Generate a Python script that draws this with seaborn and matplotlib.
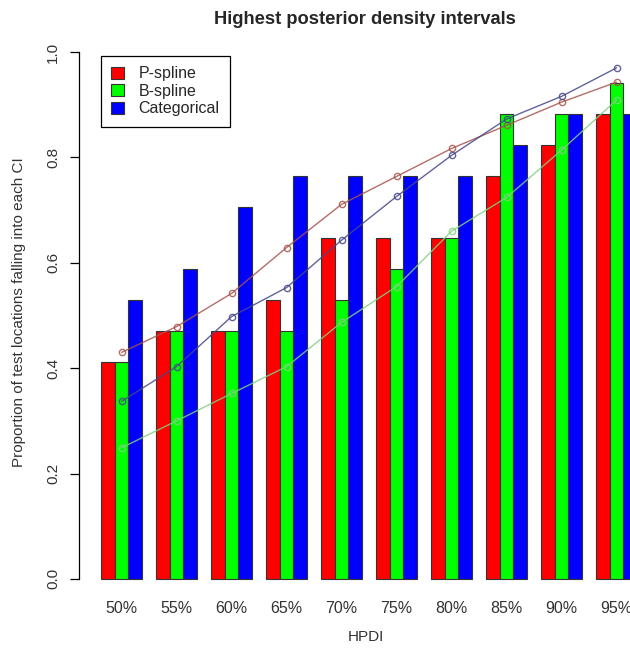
import numpy as np
import pandas as pd
import matplotlib
matplotlib.use("Agg")
import matplotlib.pyplot as plt
import seaborn as sns

sns.set_theme(style="white")
plt.rcParams["font.family"] = ["Liberation Sans", "DejaVu Sans"]

# data
levels = ["50%", "55%", "60%", "65%", "70%", "75%", "80%", "85%", "90%", "95%"]
methods = ["P-spline", "B-spline", "Categorical"]
p_spline = [0.412, 0.471, 0.471, 0.529, 0.647, 0.647, 0.647, 0.765, 0.824, 0.882]
b_spline = [0.412, 0.471, 0.471, 0.471, 0.529, 0.588, 0.647, 0.882, 0.882, 0.941]
categorical = [0.529, 0.588, 0.706, 0.765, 0.765, 0.765, 0.765, 0.824, 0.882, 0.882]

# expected coverage curves
p_line = [0.430, 0.479, 0.542, 0.629, 0.711, 0.764, 0.817, 0.861, 0.905, 0.943]
b_line = [0.249, 0.300, 0.352, 0.403, 0.487, 0.555, 0.660, 0.724, 0.814, 0.909]
c_line = [0.337, 0.403, 0.498, 0.553, 0.643, 0.726, 0.804, 0.873, 0.916, 0.970]

bar_colors = ["#FF0000", "#00FF00", "#0000FF"]
line_colors = ["#A8544C", "#80D080", "#474789"]

df = pd.DataFrame({
    "HPDI": levels * 3,
    "method": np.repeat(methods, len(levels)),
    "value": p_spline + b_spline + categorical,
})

W, H = 630, 651
fig = plt.figure(figsize=(W / 100, H / 100), dpi=100)
# axes placed so that y=0 sits at px 579 and y=1 at px 52
ax = fig.add_axes([79 / W, 1 - 600 / H, 1 - 79 / W, (600 - 31) / H])

sns.barplot(data=df, x="HPDI", y="value", hue="method", order=levels,
            hue_order=methods, palette=bar_colors, saturation=1,
            width=0.75, edgecolor="#333333", linewidth=0.8, ax=ax)

xpos = np.arange(len(levels))
for vals, col in zip([p_line, b_line, c_line], line_colors):
    sns.lineplot(x=xpos, y=vals, ax=ax, color=col, linewidth=1.0,
                 marker="o", markersize=4.5, markerfacecolor="none",
                 markeredgecolor=col, markeredgewidth=1.0, alpha=0.85,
                 legend=False)

ax.set_xlim(-0.775, 9.244)
ax.set_ylim(-0.04, 1.04)

for s in ["top", "right", "bottom"]:
    ax.spines[s].set_visible(False)
ax.spines["left"].set_bounds(0, 1)
ax.spines["left"].set_color("black")
ax.spines["left"].set_linewidth(0.9)

yt = [0.0, 0.2, 0.4, 0.6, 0.8, 1.0]
ax.set_yticks(yt)
ax.set_yticklabels([f"{v:.1f}" for v in yt], rotation=90, va="center",
                   fontsize=11, color="#333333")
ax.tick_params(axis="y", left=True, length=6.5, width=0.9, pad=7, color="black")
ax.set_xticks(xpos)
ax.set_xticklabels(levels, fontsize=11.5, color="#333333")
ax.tick_params(axis="x", bottom=False, length=0, pad=1)

ax.set_xlabel("")
ax.set_ylabel("")
fig.text(19 / W, 1 - 312 / H, "Proportion of test locations falling into each CI",
         rotation=90, ha="center", va="center", fontsize=11, color="#333333")
fig.text(366 / W, 1 - 637 / H, "HPDI", ha="center", va="center",
         fontsize=11, color="#333333")
fig.text(365 / W, 1 - 20 / H, "Highest posterior density intervals",
         ha="center", va="center", fontsize=13.2, fontweight="bold")

handles, labels = ax.get_legend_handles_labels()
ax.get_legend().remove()
leg = fig.legend(handles[:3], labels[:3], loc="upper left",
                 bbox_to_anchor=(101 / W, 1 - 56 / H), borderaxespad=0,
                 fancybox=False, framealpha=1, edgecolor="black",
                 fontsize=11.5, handlelength=0.8, handleheight=0.8,
                 handletextpad=0.9, labelspacing=0.15, borderpad=0.65)
leg.get_frame().set_linewidth(0.9)

fig.savefig("out.png", dpi=100)
